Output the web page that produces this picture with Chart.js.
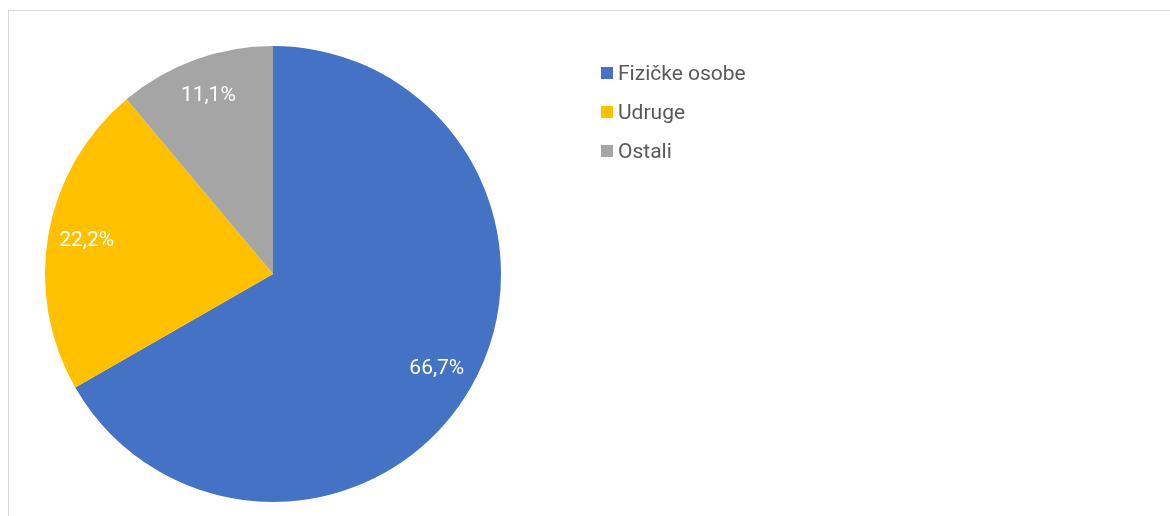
<!DOCTYPE html>
<html>
<head>
<meta charset="utf-8">
<script src="https://cdn.jsdelivr.net/npm/chart.js@4/dist/chart.umd.min.js"></script>
<style>
    html, body { margin: 0; padding: 0; background: #fff; }
    #wrap { position: relative; width: 1170px; height: 516px; overflow: hidden; }
    #frame { position: absolute; left: 8px; top: 10px; width: 1300px; height: 700px;
             border-left: 1.5px solid #d9d9d9; border-top: 1.5px solid #d9d9d9; }
    #pie { position: absolute; left: 0; top: 0; }
    #legend { position: absolute; left: 601px; top: 53px; font-family: Roboto, sans-serif;
              font-size: 21px; color: #595959; }
    .item { display: flex; align-items: center; height: 39px; }
    .box { width: 12px; height: 12px; margin-right: 5px; }
</style>
</head>
<body>
<div id="wrap">
    <div id="frame"></div>
    <canvas id="pie" width="1170" height="516"></canvas>
    <div id="legend"></div>
</div>
<script>
// slice data, clockwise from 12 o'clock
const categories = ['Fizičke osobe', 'Udruge', 'Ostali'];
const shares = [66.7, 22.2, 11.1];
const sliceColors = ['#4472C4', '#FFC000', '#A5A5A5'];

// draw percentage text inside each slice
const sliceLabels = {
    id: 'sliceLabels',
    afterDatasetsDraw(chart) {
        const ctx = chart.ctx;
        const meta = chart.getDatasetMeta(0);
        ctx.save();
        ctx.font = '21px Roboto, sans-serif';
        ctx.fillStyle = '#ffffff';
        ctx.textAlign = 'center';
        ctx.textBaseline = 'middle';
        meta.data.forEach((arc, i) => {
            const mid = (arc.startAngle + arc.endAngle) / 2;
            const r = arc.outerRadius * 0.83;
            const x = arc.x + Math.cos(mid) * r;
            const y = arc.y + Math.sin(mid) * r;
            ctx.fillText(shares[i].toFixed(1).replace('.', ',') + '%', x, y);
        });
        ctx.restore();
    }
};

new Chart(document.getElementById('pie'), {
    type: 'pie',
    data: {
        labels: categories,
        datasets: [{
            data: shares,
            backgroundColor: sliceColors,
            borderWidth: 0
        }]
    },
    options: {
        responsive: false,
        animation: false,
        layout: { padding: { left: 45, top: 46, right: 669, bottom: 14 } },
        plugins: {
            legend: { display: false },
            tooltip: { enabled: false }
        }
    },
    plugins: [sliceLabels]
});

document.getElementById('legend').innerHTML = categories.map((c, i) => `
    <div class="item"><span class="box" style="background:${sliceColors[i]}"></span>${c}</div>
`).join('');
</script>
</body>
</html>
